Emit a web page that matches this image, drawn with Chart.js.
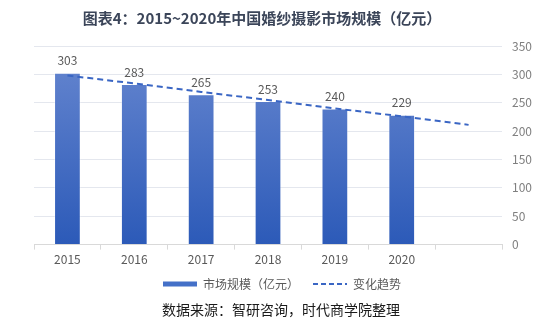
<!DOCTYPE html>
<html>
<head>
<meta charset="utf-8">
<script src="https://cdn.jsdelivr.net/npm/chart.js@4/dist/chart.umd.min.js"></script>
<style>
  html, body { margin: 0; padding: 0; background: #fff; }
  #wrap { width: 550px; height: 329px; position: relative; }
</style>
</head>
<body>
<div id="wrap"><canvas id="marketChart"></canvas></div>
<script>
// chart data
const years = ['2015', '2016', '2017', '2018', '2019', '2020', ''];
const marketSize = [303, 283, 265, 253, 240, 229];
const trendValues = [298, 284, 269, 255, 240, 226, 211];
const yTicks = [0, 50, 100, 150, 200, 250, 300, 350];

const FONT = '"Noto Sans CJK SC", "Noto Sans", sans-serif';

// bar value labels above each bar
const barLabels = {
    id: 'barLabels',
    afterDatasetsDraw(chart) {
        const ctx = chart.ctx;
        const meta = chart.getDatasetMeta(0);
        ctx.save();
        ctx.font = '12px ' + FONT;
        ctx.fillStyle = '#595959';
        ctx.textAlign = 'center';
        ctx.textBaseline = 'bottom';
        meta.data.forEach((bar, i) => {
            ctx.fillText(marketSize[i], bar.x, bar.y - 6);
        });
        ctx.restore();
    }
};

// title at top, source note at bottom
const headerFooter = {
    id: 'headerFooter',
    afterDraw(chart) {
        const ctx = chart.ctx;
        ctx.save();
        ctx.textAlign = 'center';
        ctx.textBaseline = 'middle';
        ctx.fillStyle = '#3b4559';
        ctx.font = 'bold 15px ' + FONT;
        ctx.fillText('图表4：2015~2020年中国婚纱摄影市场规模（亿元）', 262, 18);
        ctx.fillStyle = '#1a1a1a';
        ctx.font = '14px ' + FONT;
        ctx.fillText('数据来源：智研咨询，时代商学院整理', 281, 310);
        ctx.restore();
    }
};

const ctx = document.getElementById('marketChart').getContext('2d');
new Chart(ctx, {
    data: {
        labels: years,
        datasets: [
            {
                type: 'bar',
                label: '市场规模（亿元）\u3000',
                data: marketSize,
                backgroundColor: (c) => {
                    const area = c.chart.chartArea;
                    if (!area) return '#4470c8';
                    const g = c.chart.ctx.createLinearGradient(0, area.top, 0, area.bottom);
                    g.addColorStop(0, '#6787d0');
                    g.addColorStop(1, '#2c5ab8');
                    return g;
                },
                borderColor: 'rgba(255,255,255,0.35)',
                borderWidth: 1,
                categoryPercentage: 0.8,
                barPercentage: 0.5,
                order: 2
            },
            {
                type: 'line',
                label: '变化趋势\u3000',
                data: trendValues,
                borderColor: '#3a66c4',
                borderWidth: 2,
                borderDash: [6, 4],
                pointRadius: 0,
                fill: false,
                order: 1
            }
        ]
    },
    options: {
        responsive: true,
        maintainAspectRatio: false,
        animation: false,
        layout: { padding: { top: 46, left: 34, right: 8, bottom: 29 } },
        plugins: {
            legend: {
                position: 'bottom',
                labels: {
                    color: '#595959',
                    font: { size: 12, family: FONT },
                    usePointStyle: true,
                    boxWidth: 34,
                    boxHeight: 5,
                    pointStyleWidth: 34,
                    padding: 8,
                    sort: (a, b) => a.datasetIndex - b.datasetIndex,
                    generateLabels(chart) {
                        const items = Chart.defaults.plugins.legend.labels.generateLabels(chart);
                        items.forEach(item => {
                            if (item.datasetIndex === 0) {
                                item.fillStyle = '#4470c8';
                                item.strokeStyle = '#4470c8';
                                item.pointStyle = 'rect';
                                item.lineWidth = 0;
                            } else {
                                item.pointStyle = 'line';
                                item.lineWidth = 2;
                                item.lineDash = [5, 3];
                            }
                        });
                        return items;
                    }
                }
            },
            tooltip: { enabled: false }
        },
        scales: {
            x: {
                grid: {
                    offset: true,
                    drawOnChartArea: false,
                    drawTicks: true,
                    tickLength: 5,
                    color: '#d9d9d9'
                },
                border: { color: '#d9d9d9' },
                ticks: { color: '#595959', font: { size: 12, family: FONT }, padding: 3 }
            },
            y: {
                position: 'right',
                min: 0,
                max: 350,
                afterBuildTicks: (axis) => { axis.ticks = yTicks.map(v => ({ value: v })); },
                grid: { color: '#e4e7ee', drawTicks: false },
                border: { display: false },
                ticks: { color: '#7f7f7f', font: { size: 12, family: FONT }, padding: 10 }
            }
        }
    },
    plugins: [barLabels, headerFooter]
});
</script>
</body>
</html>
